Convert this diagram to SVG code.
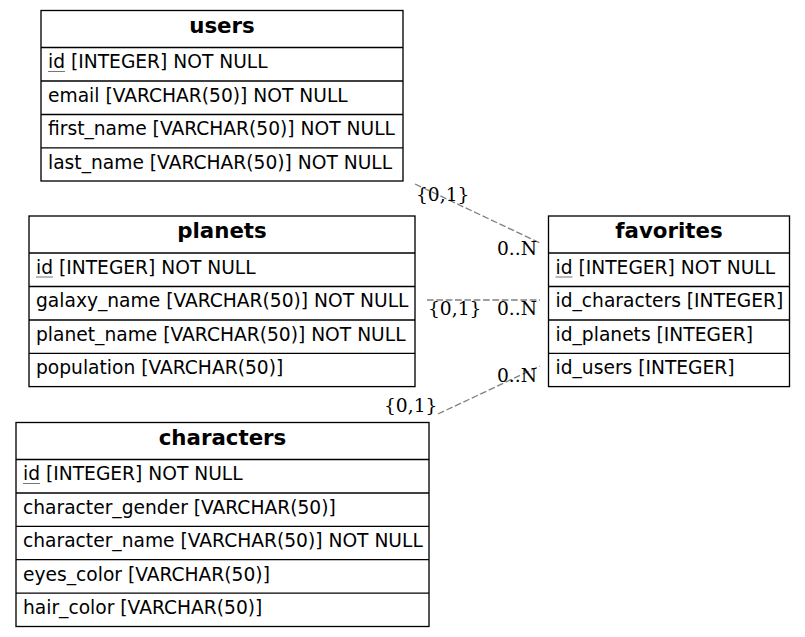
<svg xmlns="http://www.w3.org/2000/svg" width="805" height="637" viewBox="0 0 805 637">
<style>
.bg{fill:#ffffff}
.box{fill:none;stroke:#000;stroke-width:1.33}
.sep{stroke:#000;stroke-width:1.33}
.t{font-family:"DejaVu Sans",sans-serif;font-size:21.33px;font-weight:bold;fill:#000;text-anchor:middle}
.r{font-family:"DejaVu Sans",sans-serif;font-size:18.67px;fill:#000}
.ul{stroke:#777;stroke-width:1}
.e{fill:none;stroke:#808080;stroke-width:1.33;stroke-dasharray:6.67,2.67}
.l{font-family:"DejaVu Serif",serif;font-size:18.67px;fill:#000}
</style>
<rect class="bg" x="0" y="0" width="805" height="637"/>
<g id="connectors">
<path class="e" d="M415,184 L540,243"/>
<path class="e" d="M427,300 L540,300"/>
<path class="e" d="M438,414 L540,366"/>
<text class="l" x="416" y="201">{0,1}</text>
<text class="l" x="497" y="255">0..N</text>
<text class="l" x="428" y="315">{0,1}</text>
<text class="l" x="497" y="315">0..N</text>
<text class="l" x="384" y="412">{0,1}</text>
<text class="l" x="497" y="382">0..N</text>
</g>
<g id="users">
<rect class="box" x="41" y="10.5" width="362" height="170.5"/>
<line class="sep" x1="41" y1="47.5" x2="403" y2="47.5"/>
<line class="sep" x1="41" y1="81" x2="403" y2="81"/>
<line class="sep" x1="41" y1="114.5" x2="403" y2="114.5"/>
<line class="sep" x1="41" y1="147.8" x2="403" y2="147.8"/>
<text class="t" x="222" y="32.5">users</text>
<text class="r" x="48" y="68.3">id [INTEGER] NOT NULL</text>
<line class="ul" x1="48" y1="71.5" x2="65" y2="71.5"/>
<text class="r" x="48" y="101.8">email [VARCHAR(50)] NOT NULL</text>
<text class="r" x="48" y="135.2">first_name [VARCHAR(50)] NOT NULL</text>
<text class="r" x="48" y="168.6">last_name [VARCHAR(50)] NOT NULL</text>
</g>
<g id="planets">
<rect class="box" x="29" y="216" width="386" height="170.6"/>
<line class="sep" x1="29" y1="253" x2="415" y2="253"/>
<line class="sep" x1="29" y1="286.5" x2="415" y2="286.5"/>
<line class="sep" x1="29" y1="320" x2="415" y2="320"/>
<line class="sep" x1="29" y1="353.3" x2="415" y2="353.3"/>
<text class="t" x="222" y="238">planets</text>
<text class="r" x="36" y="273.8">id [INTEGER] NOT NULL</text>
<line class="ul" x1="36" y1="277" x2="53" y2="277"/>
<text class="r" x="36" y="307.3">galaxy_name [VARCHAR(50)] NOT NULL</text>
<text class="r" x="36" y="340.8">planet_name [VARCHAR(50)] NOT NULL</text>
<text class="r" x="36" y="374.1">population [VARCHAR(50)]</text>
</g>
<g id="favorites">
<rect class="box" x="548.5" y="216" width="241" height="170.6"/>
<line class="sep" x1="548.5" y1="253" x2="789.5" y2="253"/>
<line class="sep" x1="548.5" y1="286.5" x2="789.5" y2="286.5"/>
<line class="sep" x1="548.5" y1="320" x2="789.5" y2="320"/>
<line class="sep" x1="548.5" y1="353.3" x2="789.5" y2="353.3"/>
<text class="t" x="669" y="238">favorites</text>
<text class="r" x="555.5" y="273.8">id [INTEGER] NOT NULL</text>
<line class="ul" x1="555.5" y1="277" x2="572.5" y2="277"/>
<text class="r" x="555.5" y="307.3">id_characters [INTEGER]</text>
<text class="r" x="555.5" y="340.8">id_planets [INTEGER]</text>
<text class="r" x="555.5" y="374.1">id_users [INTEGER]</text>
</g>
<g id="characters">
<rect class="box" x="16" y="422.5" width="413" height="204"/>
<line class="sep" x1="16" y1="459.5" x2="429" y2="459.5"/>
<line class="sep" x1="16" y1="493" x2="429" y2="493"/>
<line class="sep" x1="16" y1="526.3" x2="429" y2="526.3"/>
<line class="sep" x1="16" y1="559.7" x2="429" y2="559.7"/>
<line class="sep" x1="16" y1="593.1" x2="429" y2="593.1"/>
<text class="t" x="222.5" y="444.5">characters</text>
<text class="r" x="23" y="480.3">id [INTEGER] NOT NULL</text>
<line class="ul" x1="23" y1="483.5" x2="40" y2="483.5"/>
<text class="r" x="23" y="513.8">character_gender [VARCHAR(50)]</text>
<text class="r" x="23" y="547.1">character_name [VARCHAR(50)] NOT NULL</text>
<text class="r" x="23" y="580.5">eyes_color [VARCHAR(50)]</text>
<text class="r" x="23" y="613.9">hair_color [VARCHAR(50)]</text>
</g>
</svg>
